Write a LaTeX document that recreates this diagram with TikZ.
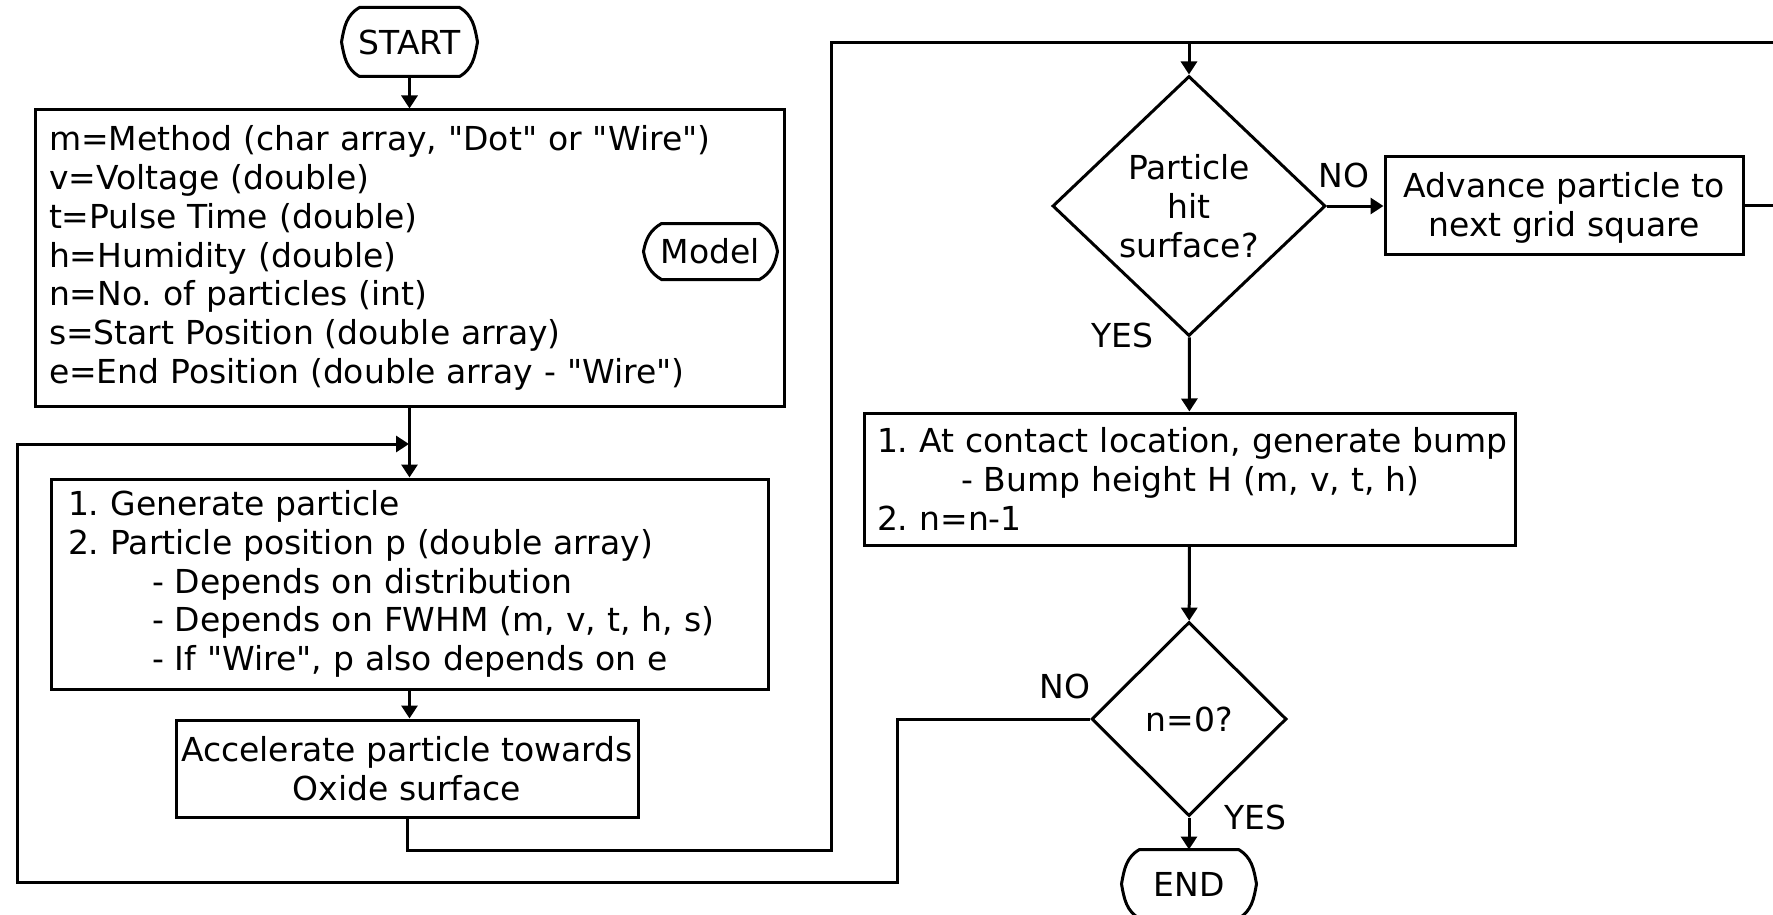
\documentclass[tikz,border=0pt]{standalone}
\usepackage{fontspec}
\setmainfont{DejaVu Sans}[Ligatures=TeXOff]
\usetikzlibrary{shapes.geometric, calc, arrows.meta, positioning}
\frenchspacing

\begin{document}
\begin{tikzpicture}[x=1pt, y=-1pt, >={Triangle[width=16pt,length=13pt]}, line width=3pt]
    \tikzstyle{txt}=[font=\fontsize{33}{38.8}\selectfont]
    \tikzstyle{box}=[txt, draw, rectangle, inner ysep=0pt]
    \tikzstyle{decision}=[txt, draw, diamond, inner sep=0pt, align=center]
    \tikzstyle{terminal}=[txt, inner sep=0pt]

    \useasboundingbox (0,0) rectangle (1773,915);

    % Terminals (outline drawn below)
    \node (start)[terminal, minimum width=133pt, minimum height=66pt] at (409.5,42) {START};
    \node (model)[terminal, minimum width=131pt, minimum height=53pt] at (710.5,251.5) {Model};
    \node (finish)[terminal, minimum width=132pt, minimum height=66pt] at (1189,884) {END};

    % Left column
    \node (input)[box, text width=721pt, inner xsep=14pt, minimum height=296pt, align=left] at (409.5,258) {%
        m=Method (char array, "Dot" or "Wire")\\
        v=Voltage (double)\\
        t=Pulse Time (double)\\
        h=Humidity (double)\\
        n=No. of particles (int)\\
        s=Start Position (double array)\\
        e=End Position (double array - "Wire")};
    \node (generate)[box, text width=683pt, inner xsep=17pt, minimum height=210pt, align=left] at (409.5,584) {%
        1. Generate particle\\
        2. Particle position p (double array)\\
        \hspace*{84pt}- Depends on distribution\\
        \hspace*{84pt}- Depends on FWHM (m, v, t, h, s)\\
        \hspace*{84pt}- If "Wire", p also depends on e};
    \node (accel)[box, minimum width=462pt, minimum height=97pt, align=center] at (407,768.5) {%
        Accelerate particle towards\\Oxide surface};

    % Right column
    \node (hit)[decision, minimum width=273pt, minimum height=260pt] at (1189,206) {Particle\\hit\\surface?};
    \node (advance)[box, minimum width=358pt, minimum height=97pt, align=center] at (1564,205.5) {%
        \rule{0pt}{30pt}Advance particle to\\next grid square};
    \node (bump)[box, text width=651pt, inner xsep=0pt, minimum height=132pt, align=left] at (1189.5,479) {%
        \hspace*{13pt}1. At contact location, generate bump\\
        \hspace*{97pt}- Bump height H (m, v, t, h)\\
        \hspace*{13pt}2. n=n-1};
    \node (ndone)[decision, minimum width=195pt, minimum height=194pt] at (1189,719) {n=0?};

    % Branch labels
    \node (hitno)[txt] at (1344,175) {NO};
    \node (hityes)[txt] at (1122,335) {YES};
    \node (ndoneno)[txt] at (1065,686) {NO};
    \node (ndoneyes)[txt] at (1255,817) {YES};

    % Terminal outlines: flat top and bottom, curved pointed sides
    \foreach \t in {start,model,finish} {
        \draw ($(\t.north west)+(18,0)$) -- ($(\t.north east)+(-18,0)$)
            to[out=-30,in=100] (\t.east) to[out=-100,in=30] ($(\t.south east)+(-18,0)$)
            -- ($(\t.south west)+(18,0)$)
            to[out=150,in=-80] (\t.west) to[out=80,in=-150] cycle;
    }

    % Turning points of the loops
    \coordinate (rise) at (831,850);
    \coordinate (topleft) at (831,43);
    \coordinate (edge) at (1773,43);
    \coordinate (noback) at (897,882);
    \coordinate (loopleft) at (17,882);
    \coordinate (loopin) at (409,444);

    % Main flow
    \draw[->] (start) -- (input);
    \draw[->] (input) -- (generate);
    \draw[->] (generate.south) -- (generate.south |- accel.north);
    \draw[->] (accel.south) |- (rise) -- (topleft) -| (hit.north);
    \draw[->] (hit.east) -- (hit.east -| advance.west);
    \draw[->] (hit) -- (bump);
    \draw[->] (bump) -- (ndone);
    \draw[->] (ndone) -- (finish);

    % Loop back from the advance step (runs off to the right)
    \draw (advance.east) -- (advance.east -| edge);
    \draw (edge) -- (topleft -| hit.north);

    % Loop back for the next particle
    \draw[->] (ndone.west) -- (ndone.west -| noback) -- (noback) -- (loopleft) |- (loopin);
\end{tikzpicture}
\end{document}
